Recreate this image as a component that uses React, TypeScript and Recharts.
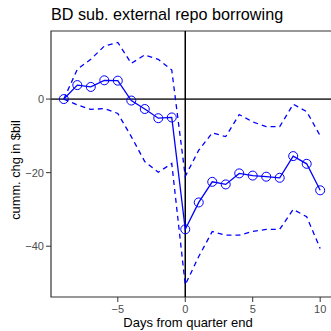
import React from "react";
import { LineChart, Line, XAxis, YAxis, ReferenceLine, ReferenceArea } from "recharts";

const days = [-9, -8, -7, -6, -5, -4, -3, -2, -1, 0, 1, 2, 3, 4, 5, 6, 7, 8, 9, 10];
const meanChg = [0, 3.8, 3.3, 5.1, 5.0, -0.4, -2.7, -5.2, -5.0, -35.4, -28.1, -22.5, -23.2, -20.2, -20.8, -21.1, -21.4, -15.5, -17.6, -24.8];
const upperBand = [0, 8.1, 10.8, 14.4, 15.4, 9.7, 12.0, 10.8, 7.9, -21.0, -13.9, -9.2, -10.2, -4.2, -6.2, -7.5, -7.5, -1.4, -3.4, -10.0];
const lowerBand = [0, -1.6, -2.8, -2.6, -3.9, -10.2, -17.0, -19.9, -17.5, -50.5, -42.8, -36.0, -37.0, -37.0, -36.0, -35.4, -35.4, -30.0, -32.0, -40.6];
const xTicks = [-5, 0, 5, 10];
const yTicks = [-40, -20, 0];

const X_DOMAIN: [number, number] = [-9.95, 10.95];
const Y_DOMAIN: [number, number] = [-53.8, 18.5];
const FONT = "'Liberation Sans', Arial, sans-serif";
const BLUE = "#0000ff";

const data = days.map((d, i) => ({ day: d, mean: meanChg[i], hi: upperBand[i], lo: lowerBand[i] }));

// ggplot-style minus sign
const fmt = (v: number) => (v < 0 ? `\u2212${Math.abs(v)}` : `${v}`);

export default function App() {
  const tick = { fontSize: 11, fill: "#4d4d4d", fontFamily: FONT };
  return (
    <div style={{ position: "absolute", left: 0, top: 0, width: 331, height: 331, overflow: "hidden", background: "#fff" }}>
      <LineChart width={333} height={331} data={data} margin={{ top: 31, right: 0, left: 0, bottom: 0 }}>
        <XAxis
          dataKey="day"
          type="number"
          domain={X_DOMAIN}
          ticks={xTicks}
          allowDataOverflow
          tickFormatter={fmt}
          tick={tick}
          tickSize={5}
          tickMargin={3}
          axisLine={false}
          tickLine={{ stroke: "#333" }}
          height={34}
        />
        <YAxis
          type="number"
          domain={Y_DOMAIN}
          ticks={yTicks}
          allowDataOverflow
          tickFormatter={fmt}
          tick={tick}
          tickSize={5}
          tickMargin={2}
          axisLine={false}
          tickLine={{ stroke: "#333" }}
          width={51}
        />
        <ReferenceArea
          x1={X_DOMAIN[0]}
          x2={X_DOMAIN[1]}
          y1={Y_DOMAIN[0]}
          y2={Y_DOMAIN[1]}
          fill="none"
          fillOpacity={0}
          stroke="#333"
          strokeWidth={1.2}
        />
        <ReferenceLine y={0} stroke="#404040" strokeWidth={1.8} />
        <ReferenceLine x={0} stroke="#000" strokeWidth={1.5} />
        <Line dataKey="hi" stroke={BLUE} strokeWidth={1.3} strokeDasharray="5 4" dot={false} isAnimationActive={false} />
        <Line dataKey="lo" stroke={BLUE} strokeWidth={1.3} strokeDasharray="5 4" dot={false} isAnimationActive={false} />
        <Line
          dataKey="mean"
          stroke={BLUE}
          strokeWidth={1.3}
          dot={{ r: 4.5, stroke: BLUE, strokeWidth: 1, fill: "none" }}
          isAnimationActive={false}
        />
      </LineChart>
      <svg width={331} height={331} style={{ position: "absolute", left: 0, top: 0, pointerEvents: "none" }}>
        <text x={51} y={20} fontSize={16.2} fontFamily={FONT} fill="#000">
          BD sub. external repo borrowing
        </text>
        <text x={188} y={327} fontSize={13} fontFamily={FONT} fill="#000" textAnchor="middle">
          Days from quarter end
        </text>
        <text
          x={20}
          y={170}
          fontSize={12.8}
          fontFamily={FONT}
          fill="#000"
          textAnchor="middle"
          transform="rotate(-90 20 170)"
        >
          cumm. chg in $bil
        </text>
      </svg>
    </div>
  );
}
